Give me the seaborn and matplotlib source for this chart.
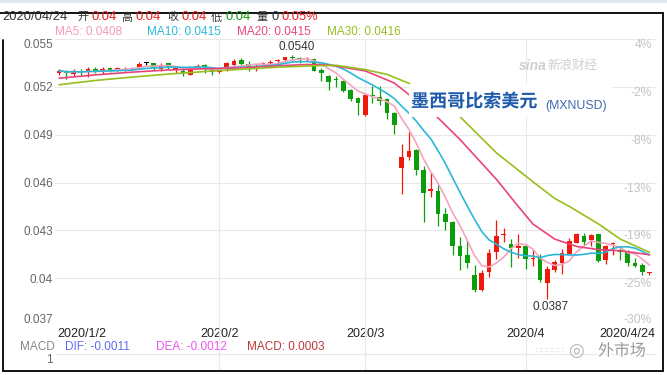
# MXN/USD daily candles, Jan 2 - Apr 24 2020, with MA lines (sina-style chart)

import pandas as pd
import matplotlib
matplotlib.use('Agg')
import matplotlib.pyplot as plt
import matplotlib.patheffects as pe
from matplotlib.patches import Rectangle
from matplotlib.lines import Line2D
from matplotlib.transforms import ScaledTranslation, blended_transform_factory
import seaborn as sns

# ---- data ----
opens = [0.05286, 0.05300, 0.05279, 0.05300, 0.05290, 0.05313, 0.05292, 0.05319, 0.05311, 0.05315,
         0.05315, 0.05319, 0.05348, 0.05348, 0.05311, 0.05348, 0.05306, 0.05302, 0.05277, 0.05327,
         0.05336, 0.05306, 0.05290, 0.05323, 0.05335, 0.05369, 0.05344, 0.05327, 0.05344, 0.05352,
         0.05365, 0.05369, 0.05384, 0.05377, 0.05373, 0.05377, 0.05306, 0.05269, 0.05248, 0.05239,
         0.05181, 0.05130, 0.05026, 0.05151, 0.05135, 0.05122, 0.05038, 0.04688, 0.04760, 0.04805,
         0.04680, 0.04546, 0.04546, 0.04400, 0.04354, 0.04204, 0.04145, 0.04020, 0.03924, 0.04036,
         0.04162, 0.04271, 0.04216, 0.04187, 0.04204, 0.04120, 0.04124, 0.03970, 0.04049, 0.04095,
         0.04153, 0.04221, 0.04266, 0.04237, 0.04275, 0.04112, 0.04212, 0.04179, 0.04166, 0.04095,
         0.04083, 0.04033]
highs = [0.05311, 0.05306, 0.05311, 0.05311, 0.05323, 0.05323, 0.05327, 0.05323, 0.05323, 0.05323,
         0.05327, 0.05357, 0.05357, 0.05352, 0.05348, 0.05352, 0.05327, 0.05311, 0.05332, 0.05344,
         0.05344, 0.05315, 0.05311, 0.05357, 0.05373, 0.05382, 0.05361, 0.05344, 0.05357, 0.05369,
         0.05377, 0.05390, 0.05400, 0.05386, 0.05386, 0.05382, 0.05315, 0.05273, 0.05265, 0.05242,
         0.05189, 0.05137, 0.05151, 0.05206, 0.05206, 0.05130, 0.05043, 0.04842, 0.04918, 0.04813,
         0.04705, 0.04667, 0.04584, 0.04442, 0.04360, 0.04258, 0.04241, 0.04083, 0.04053, 0.04183,
         0.04366, 0.04312, 0.04246, 0.04279, 0.04212, 0.04183, 0.04153, 0.04074, 0.04116, 0.04183,
         0.04250, 0.04283, 0.04283, 0.04275, 0.04275, 0.04208, 0.04225, 0.04187, 0.04174, 0.04124,
         0.04095, 0.04041]
lows = [0.05277, 0.05248, 0.05269, 0.05275, 0.05261, 0.05286, 0.05281, 0.05294, 0.05302, 0.05302,
        0.05306, 0.05315, 0.05336, 0.05306, 0.05298, 0.05311, 0.05286, 0.05265, 0.05273, 0.05319,
        0.05286, 0.05277, 0.05286, 0.05298, 0.05327, 0.05336, 0.05302, 0.05302, 0.05336, 0.05344,
        0.05352, 0.05365, 0.05365, 0.05348, 0.05365, 0.05298, 0.05235, 0.05181, 0.05198, 0.05165,
        0.05110, 0.05022, 0.05018, 0.05101, 0.05089, 0.05001, 0.04905, 0.04525, 0.04738, 0.04646,
        0.04354, 0.04512, 0.04325, 0.04300, 0.04145, 0.04053, 0.04062, 0.03911, 0.03920, 0.04008,
        0.04120, 0.04224, 0.04070, 0.04124, 0.04058, 0.04074, 0.03978, 0.03870, 0.04041, 0.04028,
        0.04149, 0.04221, 0.04208, 0.04204, 0.04103, 0.04087, 0.04145, 0.04116, 0.04078, 0.04070,
        0.04020, 0.04020]
closes = [0.05302, 0.05286, 0.05298, 0.05286, 0.05311, 0.05298, 0.05311, 0.05304, 0.05315, 0.05319,
          0.05319, 0.05344, 0.05348, 0.05319, 0.05332, 0.05323, 0.05319, 0.05286, 0.05319, 0.05332,
          0.05323, 0.05294, 0.05302, 0.05348, 0.05365, 0.05344, 0.05323, 0.05332, 0.05348, 0.05357,
          0.05369, 0.05386, 0.05379, 0.05373, 0.05377, 0.05302, 0.05286, 0.05231, 0.05240, 0.05176,
          0.05122, 0.05097, 0.05147, 0.05143, 0.05110, 0.05035, 0.04963, 0.04759, 0.04800, 0.04680,
          0.04537, 0.04562, 0.04400, 0.04350, 0.04199, 0.04141, 0.04095, 0.03924, 0.04033, 0.04158,
          0.04266, 0.04279, 0.04187, 0.04199, 0.04120, 0.04128, 0.03991, 0.04058, 0.04099, 0.04158,
          0.04233, 0.04279, 0.04229, 0.04271, 0.04108, 0.04204, 0.04221, 0.04166, 0.04095, 0.04078,
          0.04036, 0.04036]

# MA20 / MA30 (candle index, value)
ma20_idx = [0, 5, 10, 15, 20, 25, 30, 34, 37, 40, 42, 46, 49, 52, 55, 58, 60, 63, 65, 68, 71, 74, 77, 81]
ma20_val = [0.05254, 0.05275, 0.05292, 0.05306, 0.05313, 0.05319, 0.05332, 0.05340, 0.05337, 0.05315,
            0.05300, 0.05224, 0.05115, 0.05005, 0.04870, 0.04720, 0.04620, 0.04450, 0.04340, 0.04245,
            0.04199, 0.04179, 0.04172, 0.04147]
ma30_idx = [0, 5, 10, 15, 20, 25, 30, 35, 38, 42, 45, 48, 51, 55, 60, 65, 68, 70, 74, 77, 81]
ma30_val = [0.05213, 0.05240, 0.05261, 0.05280, 0.05296, 0.05310, 0.05323, 0.05332, 0.05335, 0.05308,
            0.05278, 0.05222, 0.05130, 0.05013, 0.04786, 0.04605, 0.04500, 0.04450, 0.04340, 0.04245,
            0.04162]

price_ticks = [0.037, 0.040, 0.043, 0.046, 0.049, 0.052, 0.055]
price_labels = ['0.037', '0.04', '0.043', '0.046', '0.049', '0.052', '0.055']
pct_labels = ['-30%', '-25%', '-19%', '-13%', '-8%', '-2%', '4%']
date_ticks = ['2020-01-02', '2020-02-03', '2020-03-02', '2020-04-01', '2020-04-24']
date_labels = ['2020/1/2', '2020/2', '2020/3', '2020/4', '2020/4/24']

legend_items = [('MA5: 0.0408', '#f59ab5'), ('MA10: 0.0415', '#2ab8d8'),
                ('MA20: 0.0415', '#e8457a'), ('MA30: 0.0416', '#97bf1e')]
header_items = [('2020/04/24', '#333333'), ('开', '#333333'), ('0.04', '#ee1c1c'),
                ('高', '#333333'), ('0.04', '#ee1c1c'), ('收', '#333333'), ('0.04', '#ee1c1c'),
                ('低', '#333333'), ('0.04', '#119911'), ('量', '#333333'), ('0', '#333333'),
                ('0.05%', '#ee1c1c')]
header_x = [2, 77, 92, 121, 136, 167, 182, 211, 226, 256, 272, 281]
macd_items = [('MACD', '#888888'), ('DIF: -0.0011', '#5b6cf5'),
              ('DEA: -0.0012', '#ee55ee'), ('MACD: 0.0003', '#bb3838')]
macd_x = [20, 65, 156, 247]

RED, GREEN = '#f01a0c', '#0a9e0a'

dates = pd.bdate_range('2020-01-02', '2020-04-24')
df = pd.DataFrame({'date': dates, 'open': opens, 'high': highs, 'low': lows, 'close': closes})
df['idx'] = range(len(df))
df['color'] = [RED if c > o else (GREEN if c < o else 'black') for o, c in zip(df.open, df.close)]
df['ma5'] = df.close.rolling(5, min_periods=1).mean()
df['ma10'] = df.close.rolling(10, min_periods=1).mean()

# ---- style ----
sns.set_style('white')
plt.rcParams['font.family'] = ['Liberation Sans', 'Noto Sans CJK SC', 'DejaVu Sans']

W, H = 667, 375
def fx(px):
    return px / W
def fy(py):
    return 1 - py / H

fig = plt.figure(figsize=(W / 100, H / 100), dpi=100)
ax = fig.add_axes([fx(55), fy(326), (657 - 55) / W, (326 - 39) / H])
ax2 = fig.add_axes([fx(55), fy(371), (657 - 55) / W, (371 - 326) / H], facecolor='none')

xmin = -4 / 7.29
xmax = xmin + 602 / 7.29
ax.set_xlim(xmin, xmax)
ax.set_ylim(0.037, 0.055)

# grid
ax.set_yticks(price_ticks, price_labels)
ax.grid(axis='y', color='#e8e8e8', lw=0.8, zorder=0)
grid_pos = [df.index[df.date == pd.Timestamp(d)][0] for d in date_ticks]
for g in grid_pos[1:-1]:
    ax.axvline(g, color='#e8e8e8', lw=0.8, zorder=0)
    ax2.axvline(g, color='#e8e8e8', lw=0.8, zorder=0)

# candles
body_low = df[['open', 'close']].min(axis=1)
body_h = (df.open - df.close).abs().clip(lower=0.00005)
ax.vlines(df.idx, df.low, df.high, colors=df.color, lw=0.9, zorder=2)
ax.bar(df.idx, body_h, bottom=body_low, width=0.64, color=df.color, lw=0, zorder=2)

# moving averages
sns.lineplot(x=df.idx, y=df.ma5, ax=ax, color='#f7a3bd', lw=1.2, zorder=3)
sns.lineplot(x=df.idx, y=df.ma10, ax=ax, color='#2ab8d8', lw=1.2, zorder=3)
sns.lineplot(x=ma20_idx, y=ma20_val, ax=ax, color='#e8457a', lw=1.2, zorder=3)
sns.lineplot(x=ma30_idx, y=ma30_val, ax=ax, color='#97bf1e', lw=1.2, zorder=3)
ax.set_xlabel('')
ax.set_ylabel('')

for s in ax.spines.values():
    s.set_visible(False)
for s in ax2.spines.values():
    s.set_visible(False)

ax.tick_params(axis='y', length=0, pad=1.5, labelsize=8.5, labelcolor='#666666')
ylabs = ax.get_yticklabels()
ylabs[0].set_va('bottom')
ylabs[-1].set_va('top')

ax.set_xticks(grid_pos, date_labels)
ax.tick_params(axis='x', length=0, pad=1.5, labelsize=9, labelcolor='#222222')
xlabs = ax.get_xticklabels()
xlabs[0].set_ha('left')
xlabs[0].set_transform(xlabs[0].get_transform() + ScaledTranslation(-2 / 100, 0, fig.dpi_scale_trans))
xlabs[-1].set_ha('right')
xlabs[-1].set_transform(xlabs[-1].get_transform() + ScaledTranslation(5.5 / 100, 0, fig.dpi_scale_trans))

# right-hand percentage labels
tr = blended_transform_factory(ax.transAxes, ax.transData)
for i, (v, lab) in enumerate(zip(price_ticks, pct_labels)):
    ax.text(0.9917, v, lab, transform=tr, ha='right', va='bottom' if i == 0 else 'top',
            fontsize=8.7, color='#c4c4c4')

# high / low annotations
i_hi = df.high.idxmax()
i_lo = df.low.idxmin()
ax.annotate(f'{df.high[i_hi]:.4f}', (i_hi, df.high[i_hi]), xytext=(3, 1.5),
            textcoords='offset points', ha='center', va='bottom', fontsize=8.5, color='#333333')
ax.annotate(f'{df.low[i_lo]:.4f}', (i_lo, df.low[i_lo]), xytext=(2, -1.5),
            textcoords='offset points', ha='center', va='top', fontsize=8.5, color='#333333')

# MACD strip
ax2.set_xlim(xmin, xmax)
ax2.set_ylim(0, 1)
ax2.axhline(0.378, color='#e8e8e8', lw=0.8, zorder=0)
ax2.set_xticks([])
ax2.set_yticks([0.378], ['1'])
ax2.tick_params(axis='y', length=0, pad=1.5, labelsize=8.5, labelcolor='#666666')
ax2.get_yticklabels()[0].set_va('top')

for (t, c), x in zip(macd_items, macd_x):
    fig.text(fx(x), fy(346.5), t, color=c, fontsize=8.5, va='center', ha='left')

# header and legend row (CJK glyphs a bit smaller, like the original)
for (t, c), x in zip(header_items, header_x):
    size = 8 if t in ('开', '高', '收', '低', '量') else 9.3
    fig.text(fx(x), fy(17.3), t, color=c, fontsize=size, va='center', ha='left')
for (t, c), x in zip(legend_items, [55, 147, 237, 327]):
    fig.text(fx(x), fy(32), t, color=c, fontsize=8.5, va='center', ha='left')

# title with white backing
fig.add_artist(Rectangle((fx(409), fy(117)), (612 - 409) / W, (117 - 84) / H,
                         transform=fig.transFigure, facecolor='white', edgecolor='none', zorder=2.5))
fig.text(fx(411), fy(102), '墨西哥比索美元', fontsize=13, weight='bold', color='#1d5aa9',
         va='center', ha='left', zorder=4,
         path_effects=[pe.withStroke(linewidth=3, foreground='white')])
fig.text(fx(545), fy(106.5), '(MXNUSD)', fontsize=8.8, color='#4169b0', va='center', ha='left', zorder=4)

# sina watermark
fig.text(fx(519), fy(66), 'sina', fontsize=10, style='italic', weight='bold', color='#cfcfcf',
         va='center', ha='left')
fig.text(fx(547), fy(66), '新浪财经', fontsize=9, color='#cfcfcf', va='center', ha='left')

# wechat watermark bottom right
fig.text(fx(536), fy(350), '∷∷∷∷∷', fontsize=6.5, color='#dddddd', va='center', ha='left',
         family='DejaVu Sans')
fig.text(fx(568), fy(351), '◎', fontsize=13, color='#b5b5b5', va='center', ha='left',
         family='DejaVu Sans')
fig.text(fx(598), fy(351), '外市场', fontsize=11.5, color='#9a9a9a', va='center', ha='left',
         path_effects=[pe.withStroke(linewidth=2, foreground='white')])

# outer frame and top strip
fig.add_artist(Rectangle((0, fy(3)), 1, 3 / H, transform=fig.transFigure,
                         facecolor='#dfe7f1', edgecolor='none'))
frame_kw = dict(transform=fig.transFigure, color='black', lw=1.3)
fig.add_artist(Line2D([0, fx(663)], [fy(12.7), fy(12.7)], **frame_kw))
fig.add_artist(Line2D([fx(663), fx(663)], [fy(12.7), fy(370.7)], **frame_kw))
fig.add_artist(Line2D([fx(3), fx(663)], [fy(370.7), fy(370.7)], **frame_kw))
fig.add_artist(Line2D([fx(3), fx(3)], [fy(40), fy(370.7)], **frame_kw))

fig.savefig('out.png', dpi=100)
plt.close(fig)
